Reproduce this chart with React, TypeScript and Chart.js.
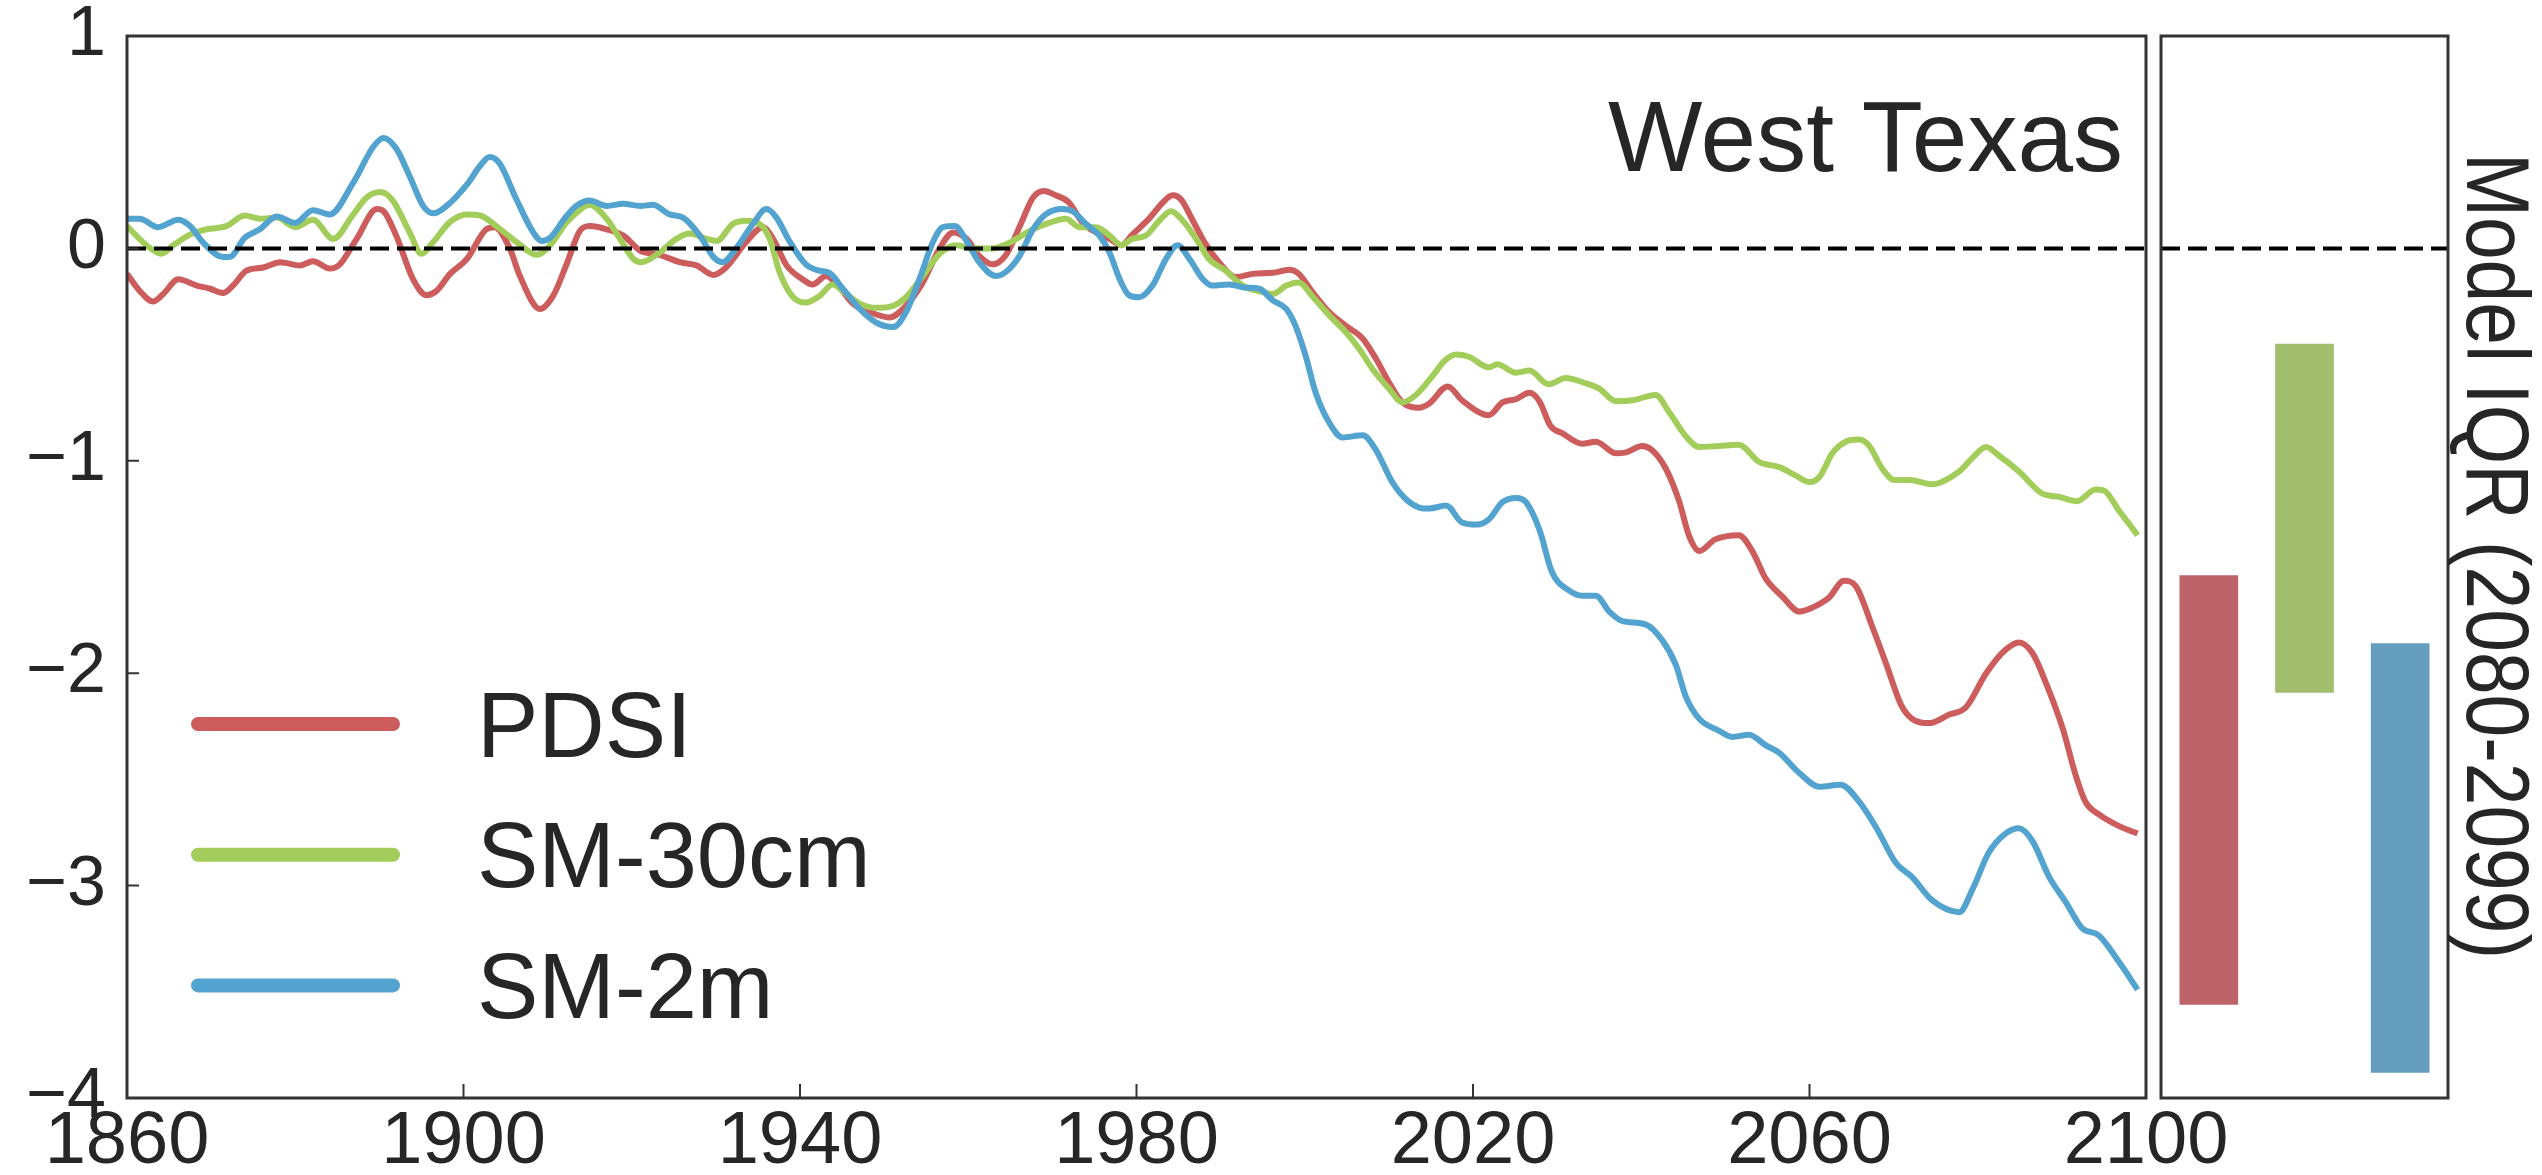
import React, { useEffect, useRef } from 'react';
import { Chart, registerables } from 'chart.js';

Chart.register(...registerables);

const FONT = "'Liberation Sans', Arial, Helvetica, sans-serif";
const TEXT = '#262626';
const FRAME = '#333333';

const xMin = 1860;
const xMax = 2100;
const xStep = 40;
const yMin = -4;
const yMax = 1;
const yStep = 1;
const innerXTicks = [1900, 1940, 1980, 2020, 2060];
const innerYTicks = [0, -1, -2, -3];

const seriesLabels = ['PDSI', 'SM-30cm', 'SM-2m'];
const lineColors = ['#CD5C5C', '#A2CD5A', '#52A3CF'];
const barColors = ['#BE6368', '#A0BE6E', '#659DBF'];
const regionLabel = 'West Texas';
const panelTitle = 'Model IQR (2080-2099)';

// [year, value]
const pdsi: [number, number][] = [
  [1860, -0.12], [1861.5, -0.2], [1863.1, -0.25], [1864.3, -0.215], [1866.1, -0.145], [1868.3, -0.175], [1869.9, -0.19],
  [1871.4, -0.21], [1872.6, -0.175], [1874.2, -0.105], [1876.2, -0.09], [1878.2, -0.065], [1880.6, -0.08], [1882.1, -0.06],
  [1884.1, -0.095], [1885.3, -0.075], [1887.3, 0.045], [1889.7, 0.185], [1890.5, 0.175], [1892, 0.06], [1894, -0.145],
  [1895.6, -0.22], [1896.8, -0.2], [1898.4, -0.12], [1900.4, -0.05], [1902.7, 0.09], [1903.7, 0.1], [1905.5, 0.0],
  [1906.7, -0.13], [1909.1, -0.285], [1910.7, -0.22], [1912.2, -0.08], [1913.8, 0.08], [1915, 0.105], [1917, 0.09],
  [1919, 0.06], [1921, -0.01], [1923.3, -0.03], [1925.7, -0.065], [1927.7, -0.08], [1929.7, -0.125], [1931.2, -0.09],
  [1933.6, 0.03], [1935.6, 0.1], [1936.8, 0.045], [1938.4, -0.08], [1940.3, -0.145], [1941.5, -0.17], [1943.1, -0.13],
  [1944.7, -0.185], [1946.3, -0.26], [1948.3, -0.3], [1950.6, -0.325], [1952.6, -0.27], [1954.6, -0.16], [1956.6, 0.0],
  [1958.2, 0.075], [1959.8, 0.045], [1961.3, -0.035], [1962.9, -0.075], [1964.5, -0.03], [1966.3, 0.12], [1967.7, 0.24],
  [1969, 0.27], [1970.4, 0.25], [1972, 0.215], [1973.6, 0.12], [1975.2, 0.075], [1976.8, 0.045], [1978.2, 0.015],
  [1979.5, 0.065], [1981.5, 0.14], [1983.1, 0.215], [1984.3, 0.25], [1985.3, 0.23], [1986.7, 0.13], [1988.3, 0.015],
  [1989.8, -0.065], [1991.8, -0.135], [1993.8, -0.12], [1996.2, -0.115], [1998.2, -0.1], [1999.3, -0.12], [2000.9, -0.205],
  [2002.9, -0.3], [2004.9, -0.365], [2006.9, -0.425], [2008.4, -0.515], [2010, -0.63], [2011.6, -0.725], [2013.6, -0.75],
  [2014.8, -0.73], [2017, -0.65], [2018.7, -0.715], [2021.9, -0.785], [2023.5, -0.725], [2025.1, -0.71], [2026.7, -0.68],
  [2027.9, -0.72], [2029.2, -0.835], [2030.6, -0.87], [2033, -0.92], [2034.6, -0.91], [2037, -0.965], [2038.2, -0.96],
  [2040.1, -0.93], [2041.3, -0.95], [2042.9, -1.035], [2044.5, -1.19], [2045.7, -1.355], [2046.9, -1.425], [2048.8, -1.37],
  [2051.6, -1.35], [2053.2, -1.425], [2054.8, -1.555], [2056.8, -1.64], [2058.8, -1.71], [2060.4, -1.69], [2062.3, -1.645],
  [2064.1, -1.565], [2065.5, -1.59], [2067.5, -1.785], [2069.1, -1.955], [2070.9, -2.15], [2072.2, -2.215], [2074.2, -2.235],
  [2076.6, -2.195], [2078.6, -2.16], [2081, -2.0], [2083.3, -1.89], [2084.9, -1.855], [2086.5, -1.905], [2088.1, -2.045],
  [2090.1, -2.26], [2091.6, -2.475], [2092.8, -2.605], [2094.4, -2.665], [2096.8, -2.72], [2099, -2.755],
];

const sm30cm: [number, number][] = [
  [1860, 0.105], [1862.3, 0.015], [1864.1, -0.025], [1865.5, 0.015], [1867.5, 0.065], [1869.5, 0.09], [1871.8, 0.105],
  [1874, 0.155], [1875.8, 0.14], [1877.8, 0.145], [1880, 0.1], [1882.1, 0.135], [1884.5, 0.045], [1886.9, 0.16],
  [1888.5, 0.24], [1890.1, 0.265], [1891.6, 0.225], [1893.6, 0.075], [1895, -0.025], [1896.4, 0.03], [1898.4, 0.125],
  [1900.4, 0.16], [1902, 0.155], [1903.9, 0.105], [1906.3, 0.03], [1908.7, -0.03], [1910.3, 0.015], [1912.2, 0.12],
  [1913.5, 0.17], [1915, 0.205], [1917, 0.14], [1918.6, 0.045], [1920.2, -0.05], [1921.1, -0.065], [1923.3, -0.02],
  [1925.3, 0.045], [1926.9, 0.07], [1928.9, 0.045], [1930.1, 0.035], [1932, 0.115], [1933.6, 0.13], [1935.2, 0.115],
  [1936.4, 0.045], [1937.6, -0.115], [1939.2, -0.23], [1940.7, -0.255], [1942.3, -0.225], [1943.9, -0.17], [1945.5, -0.215],
  [1947.1, -0.26], [1949.1, -0.28], [1951.1, -0.27], [1952.6, -0.23], [1954.6, -0.13], [1956.6, -0.025], [1958.6, 0.015],
  [1960.5, 0.0], [1962.9, 0.0], [1964.5, 0.02], [1965.5, 0.04], [1967.7, 0.09], [1969.6, 0.12], [1971.6, 0.14],
  [1973.2, 0.1], [1975.2, 0.1], [1976.8, 0.06], [1978.2, 0.015], [1979.5, 0.045], [1981.1, 0.06], [1982.7, 0.13],
  [1984.1, 0.175], [1985.5, 0.13], [1987.1, 0.045], [1988.6, -0.05], [1990.6, -0.105], [1992.6, -0.175], [1995, -0.205],
  [1996.2, -0.215], [1997.8, -0.175], [1999.3, -0.16], [2000.9, -0.225], [2002.9, -0.315], [2004.9, -0.395], [2006.5, -0.475],
  [2008.1, -0.57], [2010, -0.66], [2011.6, -0.725], [2013.2, -0.69], [2015.2, -0.6], [2016.6, -0.53], [2018, -0.5],
  [2019.5, -0.51], [2021.9, -0.56], [2022.9, -0.545], [2025.1, -0.585], [2026.7, -0.575], [2029, -0.64], [2031, -0.61],
  [2033.4, -0.635], [2035, -0.66], [2037, -0.72], [2039, -0.715], [2041.7, -0.69], [2043.3, -0.77], [2045.3, -0.885],
  [2046.9, -0.935], [2049.2, -0.93], [2051.6, -0.925], [2054, -1.005], [2056.4, -1.03], [2058.4, -1.07], [2060, -1.1],
  [2061.2, -1.075], [2062.7, -0.965], [2064.3, -0.91], [2065.9, -0.9], [2067.1, -0.93], [2068.7, -1.04], [2070.1, -1.09],
  [2071.9, -1.09], [2074.6, -1.11], [2077.8, -1.05], [2079.4, -0.985], [2081, -0.935], [2082.5, -0.975], [2084.9, -1.05],
  [2087.7, -1.155], [2089.7, -1.17], [2091.8, -1.19], [2094, -1.135], [2095, -1.14], [2096.8, -1.235], [2099, -1.35],
];

const sm2m: [number, number][] = [
  [1860, 0.14], [1861.5, 0.14], [1863.7, 0.1], [1866.1, 0.135], [1867.5, 0.105], [1869, 0.03], [1871.4, -0.04],
  [1872.2, -0.04], [1874, 0.05], [1875.8, 0.09], [1877.8, 0.15], [1880, 0.12], [1882.1, 0.18], [1884.1, 0.16],
  [1886.9, 0.31], [1889.3, 0.48], [1890.5, 0.52], [1892, 0.47], [1893.6, 0.34], [1895.2, 0.2], [1896.4, 0.165],
  [1898, 0.2], [1900.4, 0.3], [1902, 0.39], [1903.1, 0.43], [1904.3, 0.4], [1906.3, 0.23], [1908.3, 0.075],
  [1909.3, 0.035], [1910.3, 0.05], [1912.2, 0.15], [1913.4, 0.2], [1915, 0.225], [1917, 0.2], [1919, 0.21],
  [1921, 0.2], [1922.5, 0.205], [1924.5, 0.16], [1926.1, 0.145], [1928.1, 0.06], [1929.7, -0.04], [1930.8, -0.065],
  [1932.4, 0.0], [1934.4, 0.115], [1936, 0.185], [1937.2, 0.145], [1938.8, 0.03], [1940.7, -0.075], [1942.3, -0.105],
  [1943.5, -0.115], [1945.1, -0.19], [1947.1, -0.285], [1949.1, -0.35], [1951.1, -0.37], [1952.6, -0.3], [1954.2, -0.145],
  [1955.8, 0.03], [1957, 0.1], [1958.4, 0.105], [1959.8, 0.035], [1961.3, -0.065], [1963.3, -0.13], [1964.5, -0.11],
  [1966.1, -0.035], [1967.7, 0.09], [1969.2, 0.16], [1971.2, 0.185], [1972.4, 0.175], [1974, 0.115], [1975.6, 0.06],
  [1976.8, -0.02], [1978, -0.145], [1979.1, -0.22], [1980.3, -0.23], [1981.9, -0.175], [1983.5, -0.05], [1984.9, 0.015],
  [1986.3, -0.05], [1987.9, -0.145], [1989, -0.175], [1991, -0.17], [1993, -0.185], [1994.6, -0.19], [1996.2, -0.245],
  [1997.8, -0.285], [1998.9, -0.365], [2000.1, -0.505], [2001.3, -0.68], [2002.9, -0.82], [2004.5, -0.89], [2006.9, -0.88],
  [2008.4, -0.945], [2010.4, -1.1], [2012, -1.18], [2013.6, -1.22], [2014.8, -1.225], [2016.8, -1.21], [2018.7, -1.29],
  [2020.5, -1.3], [2021.9, -1.275], [2023.5, -1.195], [2025.1, -1.175], [2026.3, -1.195], [2027.9, -1.325], [2029.4, -1.525],
  [2031.4, -1.61], [2033, -1.635], [2034.6, -1.635], [2036.2, -1.71], [2037.8, -1.755], [2040.5, -1.77], [2042.5, -1.845],
  [2044.1, -1.96], [2045.3, -2.11], [2046.9, -2.215], [2049.2, -2.27], [2050.8, -2.3], [2052.8, -2.29], [2054.8, -2.34],
  [2056.4, -2.375], [2058.8, -2.47], [2061.2, -2.535], [2063.7, -2.525], [2065.9, -2.605], [2067.9, -2.725], [2070.3, -2.895],
  [2072.2, -2.96], [2074.6, -3.07], [2077.8, -3.125], [2079.4, -3.015], [2081.3, -2.845], [2083.3, -2.755], [2084.9, -2.73],
  [2086.5, -2.79], [2088.5, -2.96], [2090.5, -3.08], [2092.4, -3.2], [2094.4, -3.235], [2096.8, -3.36], [2099, -3.49],
];

// Model IQR 2080-2099: low / high per series
const iqrLow = [-3.56, -2.09, -3.88];
const iqrHigh = [-1.54, -0.45, -1.86];

const fmtY = (v: number) => (v < 0 ? '\u2212' + Math.abs(v) : String(v));

export default function App() {
  const mainRef = useRef<HTMLCanvasElement>(null);
  const sideRef = useRef<HTMLCanvasElement>(null);

  useEffect(() => {
    document.body.style.margin = '0';
    const series = [pdsi, sm30cm, sm2m];

    const zeroLine = (chart: any) => {
      const { ctx, chartArea: a, scales } = chart;
      const y0 = scales.y.getPixelForValue(0);
      ctx.save();
      ctx.beginPath();
      ctx.rect(a.left, a.top, a.right - a.left, a.bottom - a.top);
      ctx.clip();
      ctx.setLineDash([19, 8]);
      ctx.lineWidth = 4;
      ctx.strokeStyle = '#000';
      ctx.beginPath();
      ctx.moveTo(a.left, y0);
      ctx.lineTo(a.right, y0);
      ctx.stroke();
      ctx.restore();
    };
    const frame = (chart: any) => {
      const { ctx, chartArea: a } = chart;
      ctx.save();
      ctx.lineWidth = 3;
      ctx.strokeStyle = FRAME;
      ctx.strokeRect(a.left, a.top, a.right - a.left, a.bottom - a.top);
      ctx.restore();
    };

    const mainPlugin = {
      id: 'mainDecor',
      afterDatasetsDraw(chart: any) {
        zeroLine(chart);
      },
      afterDraw(chart: any) {
        const { ctx, chartArea: a, scales } = chart;
        // inward ticks
        ctx.save();
        ctx.lineWidth = 2;
        ctx.strokeStyle = FRAME;
        ctx.beginPath();
        innerXTicks.forEach((v) => {
          const px = scales.x.getPixelForValue(v);
          ctx.moveTo(px, a.bottom);
          ctx.lineTo(px, a.bottom - 14);
        });
        innerYTicks.forEach((v) => {
          const py = scales.y.getPixelForValue(v);
          ctx.moveTo(a.left, py);
          ctx.lineTo(a.left + 12, py);
        });
        ctx.stroke();
        ctx.restore();
        frame(chart);
        // legend
        ctx.save();
        chart.data.datasets.forEach((ds: any, i: number) => {
          const ly = 724 + i * 130.7;
          ctx.lineCap = 'round';
          ctx.lineWidth = 14;
          ctx.strokeStyle = ds.borderColor;
          ctx.beginPath();
          ctx.moveTo(198, ly);
          ctx.lineTo(393, ly);
          ctx.stroke();
          ctx.fillStyle = TEXT;
          ctx.font = `92px ${FONT}`;
          ctx.textAlign = 'left';
          ctx.textBaseline = 'alphabetic';
          ctx.fillText(ds.label, 477, ly + 32.5);
        });
        // region label
        ctx.fillStyle = TEXT;
        ctx.font = `100px ${FONT}`;
        ctx.textAlign = 'right';
        ctx.textBaseline = 'alphabetic';
        ctx.fillText(regionLabel, a.right - 23, 171);
        ctx.restore();
      },
    };

    const main = new Chart(mainRef.current as HTMLCanvasElement, {
      type: 'line',
      data: {
        datasets: series.map((s, i) => ({
          label: seriesLabels[i],
          data: s.map(([x, y]) => ({ x, y })),
          borderColor: lineColors[i],
          backgroundColor: lineColors[i],
          borderWidth: 6,
          pointRadius: 0,
          cubicInterpolationMode: 'monotone',
          fill: false,
          order: 3 - i,
        })),
      },
      options: {
        responsive: false,
        animation: false,
        events: [],
        layout: { padding: { top: 36, right: 396, left: 0, bottom: 0 } },
        plugins: { legend: { display: false }, tooltip: { enabled: false } },
        scales: {
          x: {
            type: 'linear',
            min: xMin,
            max: xMax,
            ticks: {
              stepSize: xStep,
              autoSkip: false,
              maxRotation: 0,
              padding: 0,
              color: TEXT,
              font: { family: FONT, size: 74 },
              callback: (v: any) => String(v),
            },
            grid: { display: false, drawTicks: false },
            border: { display: false },
            afterFit: (s: any) => {
              s.height = 77;
              s.paddingLeft = 0;
              s.paddingRight = 0;
            },
          },
          y: {
            type: 'linear',
            min: yMin,
            max: yMax,
            ticks: {
              stepSize: yStep,
              padding: 21,
              color: TEXT,
              font: { family: FONT, size: 70 },
              callback: (v: any) => fmtY(Number(v)),
            },
            grid: { display: false, drawTicks: false },
            border: { display: false },
            afterFit: (s: any) => {
              s.width = 127;
              s.paddingTop = 0;
              s.paddingBottom = 0;
            },
          },
        },
      } as any,
      plugins: [mainPlugin],
    });

    const sidePlugin = {
      id: 'sideDecor',
      afterDatasetsDraw(chart: any) {
        zeroLine(chart);
      },
      afterDraw(chart: any) {
        frame(chart);
        const { ctx } = chart;
        ctx.save();
        ctx.translate(313, 556);
        ctx.rotate(Math.PI / 2);
        ctx.font = `89px ${FONT}`;
        const w = ctx.measureText(panelTitle).width;
        ctx.scale(806 / w, 1);
        ctx.fillStyle = TEXT;
        ctx.textAlign = 'center';
        ctx.textBaseline = 'alphabetic';
        ctx.fillText(panelTitle, 0, 0);
        ctx.restore();
      },
    };

    const side = new Chart(sideRef.current as HTMLCanvasElement, {
      type: 'bar',
      data: {
        labels: seriesLabels,
        datasets: [
          {
            label: panelTitle,
            data: iqrLow.map((lo, i) => [lo, iqrHigh[i]]),
            backgroundColor: barColors,
            borderWidth: 0,
            barThickness: 58,
          },
        ],
      },
      options: {
        responsive: false,
        animation: false,
        events: [],
        layout: { padding: { left: 7, top: 36, right: 94, bottom: 77 } },
        plugins: { legend: { display: false }, tooltip: { enabled: false } },
        scales: {
          x: { display: false },
          y: { display: false, min: yMin, max: yMax },
        },
      } as any,
      plugins: [sidePlugin],
    });

    return () => {
      main.destroy();
      side.destroy();
    };
  }, []);

  return (
    <div style={{ position: 'relative', width: 2542, height: 1175, overflow: 'hidden', background: '#fff' }}>
      <canvas
        ref={mainRef}
        width={2542}
        height={1175}
        style={{ position: 'absolute', left: 0, top: 0, width: 2542, height: 1175 }}
      />
      <canvas
        ref={sideRef}
        width={388}
        height={1175}
        style={{ position: 'absolute', left: 2154, top: 0, width: 388, height: 1175 }}
      />
    </div>
  );
}
